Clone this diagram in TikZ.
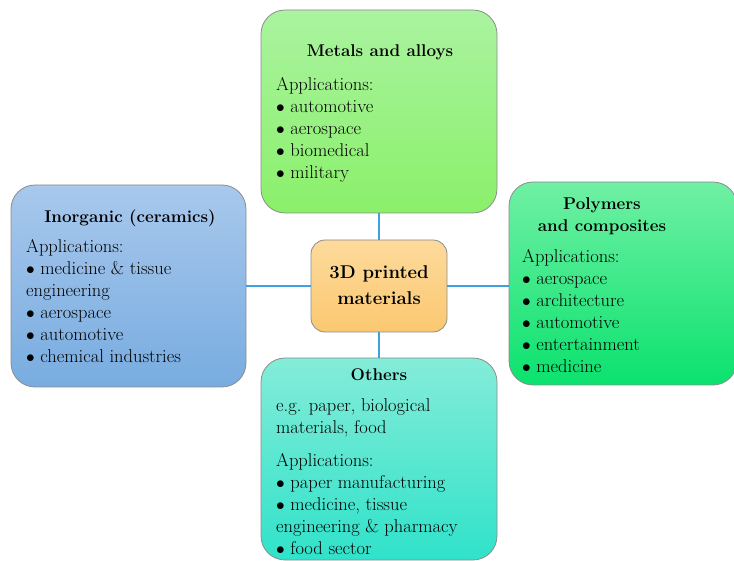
\documentclass[tikz,border=0pt]{standalone}
\usepackage{fontspec}
\begin{document}
\begin{tikzpicture}[x=1pt,y=-1pt,
  box/.style={draw=black!45, rounded corners=24pt, line width=0.8pt, inner sep=0pt},
  conn/.style={draw={rgb,255:red,60;green,160;blue,225}, line width=1.8pt},
  txt/.style={anchor=north west, align=left, inner sep=0pt, font=\fontsize{18.5}{22}\selectfont},
  ttl/.style={align=center, inner sep=0pt, font=\fontsize{17}{22}\selectfont\bfseries}]
\useasboundingbox (0,0) rectangle (734,561);
% boxes
\node[box, top color={rgb,255:red,170;green,243;blue,160}, bottom color={rgb,255:red,138;green,240;blue,106},
  minimum width=236pt, minimum height=203pt] (metals) at (379,111.5) {};
\node[box, top color={rgb,255:red,168;green,200;blue,236}, bottom color={rgb,255:red,120;green,172;blue,224},
  minimum width=235pt, minimum height=202pt] (inorg) at (128.5,286) {};
\node[box, rounded corners=14pt, top color={rgb,255:red,253;green,218;blue,156}, bottom color={rgb,255:red,251;green,200;blue,112},
  minimum width=136pt, minimum height=92pt] (center) at (379,286) {};
\node[box, top color={rgb,255:red,112;green,240;blue,164}, bottom color={rgb,255:red,10;green,226;blue,110},
  minimum width=228pt, minimum height=203pt] (poly) at (623,283.5) {};
\node[box, top color={rgb,255:red,132;green,236;blue,216}, bottom color={rgb,255:red,48;green,226;blue,202},
  minimum width=236pt, minimum height=202pt] (others) at (379,459) {};
% connectors
\draw[conn] (metals.south) -- (metals.south |- center.north);
\draw[conn] (center.south) -- (center.south |- others.north);
\draw[conn] (inorg.east) -- (inorg.east -| center.west);
\draw[conn] (center.east) -- (center.east -| poly.west);
% texts
\node[ttl] (metalsT) at (380,52) {Metals and alloys};
\node[txt] (metalsB) at (276,77) {Applications:\\$\bullet$ automotive\\$\bullet$ aerospace\\$\bullet$ biomedical\\$\bullet$ military};
\node[ttl] (inorgT) at (130,218) {Inorganic (ceramics)};
\node[txt] (inorgB) at (26,239) {Applications:\\$\bullet$ medicine \& tissue\\engineering\\$\bullet$ aerospace\\$\bullet$ automotive\\$\bullet$ chemical industries};
\node[ttl, font=\fontsize{18.5}{26}\selectfont\bfseries] (centerT) at (379,285) {3D printed\\materials};
\node[ttl] (polyT) at (602,216) {Polymers\\and composites};
\node[txt] (polyB) at (522,249) {Applications:\\$\bullet$ aerospace\\$\bullet$ architecture\\$\bullet$ automotive\\$\bullet$ entertainment\\$\bullet$ medicine};
\node[ttl] (othersT) at (379,375) {Others};
\node[txt] (othersA) at (276,398) {e.g. paper, biological\\materials, food};
\node[txt] (othersB) at (276,453) {Applications:\\$\bullet$ paper manufacturing\\$\bullet$ medicine, tissue\\engineering \& pharmacy\\$\bullet$ food sector};
\end{tikzpicture}
\end{document}
